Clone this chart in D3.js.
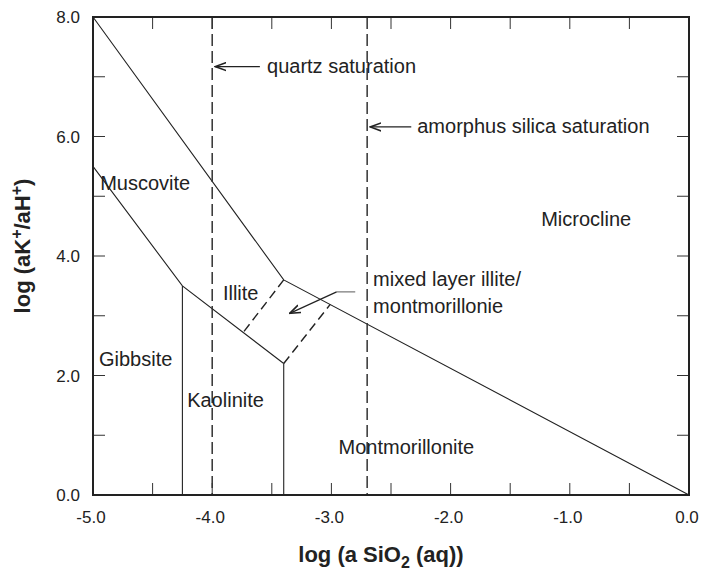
<!DOCTYPE html>
<html>
<head>
<meta charset="utf-8">
<script src="https://cdn.jsdelivr.net/npm/d3@7"></script>
<style>
  body { margin: 0; background: #fff; }
  text { font-family: "Liberation Sans", Arial, sans-serif; fill: #222; }
</style>
</head>
<body>
<script>
// tick values
const xTicks = [-5, -4, -3, -2, -1, 0];
const yTicks = [0, 2, 4, 6, 8];
const xMinor = d3.range(-5, 0.01, 0.5);
const yMinor = d3.range(0, 8.01, 1);

// phase boundaries (log aSiO2, log aK/aH)
const upperBoundary = [[-5, 8], [-3.4, 3.6], [0, 0]];
const lowerBoundary = [[-5, 5.5], [-4.25, 3.5], [-3.4, 2.2]];
const gibbsiteKaolinite = [[-4.25, 3.5], [-4.25, 0]];
const kaoliniteMontm = [[-3.4, 2.2], [-3.4, 0]];
const illiteMixed = [[-3.4, 3.6], [-3.74, 2.72]];
const mixedMontm = [[-3.4, 2.2], [-3.01, 3.19]];

// saturation lines
const saturationX = [-4.0, -2.7];
const saturationLabels = ['quartz saturation', 'amorphus silica saturation'];
const saturationArrowY = [7.17, 6.16];
const saturationArrowFrom = [-3.6, -2.33];
const saturationTextX = [-3.54, -2.28];

// field names
const fieldNames = ['Muscovite', 'Microcline', 'Illite', 'Gibbsite', 'Kaolinite', 'Montmorillonite'];
const fieldX = [-4.94, -1.24, -3.91, -4.95, -4.21, -2.94];
const fieldY = [5.1, 4.5, 3.26, 2.16, 1.47, 0.69];

// mixed layer note
const mixedLines = ['mixed layer illite/', 'montmorillonie'];
const mixedTextPos = [-2.65, 3.49];
const mixedArrow = [[-2.8, 3.4], [-2.956, 3.4], [-3.35, 3.04]];

const width = 703, height = 572;
const margin = {top: 17, right: 14, bottom: 77, left: 93};

const svg = d3.select('body').append('svg')
    .attr('width', width)
    .attr('height', height);

const x = d3.scaleLinear().domain([-5, 0]).range([margin.left, width - margin.right]);
const y = d3.scaleLinear().domain([0, 8]).range([height - margin.bottom, margin.top]);

const line = d3.line().x(d => x(d[0])).y(d => y(d[1]));

// arrow marker (open head)
const defs = svg.append('defs');
defs.append('marker')
    .attr('id', 'head')
    .attr('viewBox', '0 0 12 10')
    .attr('refX', 11).attr('refY', 5)
    .attr('markerWidth', 12).attr('markerHeight', 10)
    .attr('markerUnits', 'userSpaceOnUse')
    .attr('orient', 'auto')
    .append('path')
    .attr('d', 'M0,1 L11,5 L0,9')
    .attr('fill', 'none')
    .attr('stroke', '#222')
    .attr('stroke-width', 1.6);

// ticks (inward)
const tickLen = 12;
const ticks = svg.append('g').attr('stroke', '#333').attr('stroke-width', 1);
xMinor.forEach(v => {
    ticks.append('line').attr('x1', x(v)).attr('x2', x(v))
        .attr('y1', y(0)).attr('y2', y(0) - tickLen);
    ticks.append('line').attr('x1', x(v)).attr('x2', x(v))
        .attr('y1', y(8)).attr('y2', y(8) + tickLen);
});
yMinor.forEach(v => {
    ticks.append('line').attr('x1', x(-5)).attr('x2', x(-5) + tickLen)
        .attr('y1', y(v)).attr('y2', y(v));
    ticks.append('line').attr('x1', x(0)).attr('x2', x(0) - tickLen)
        .attr('y1', y(v)).attr('y2', y(v));
});

// tick labels
svg.append('g').selectAll('text')
    .data(xTicks).enter().append('text')
    .attr('x', d => x(d) - 2)
    .attr('y', y(0) + 28)
    .attr('text-anchor', 'middle')
    .style('font-size', '17px')
    .text(d => d3.format('.1f')(d).replace('−', '-'));

svg.append('g').selectAll('text')
    .data(yTicks).enter().append('text')
    .attr('x', x(-5) - 13)
    .attr('y', d => y(d))
    .attr('dy', '0.36em')
    .attr('text-anchor', 'end')
    .style('font-size', '17px')
    .text(d => d3.format('.1f')(d));

// boundaries
const bounds = svg.append('g').attr('fill', 'none').attr('stroke', '#222').attr('stroke-width', 1.1);
[upperBoundary, lowerBoundary, gibbsiteKaolinite, kaoliniteMontm].forEach(b => {
    bounds.append('path').datum(b).attr('d', line);
});
[illiteMixed, mixedMontm].forEach(b => {
    bounds.append('path').datum(b).attr('d', line)
        .attr('stroke-width', 1.4)
        .attr('stroke-dasharray', '9,5');
});

// saturation lines
saturationX.forEach((v, i) => {
    svg.append('line')
        .attr('x1', x(v)).attr('x2', x(v))
        .attr('y1', y(8)).attr('y2', y(0))
        .attr('stroke', '#333')
        .attr('stroke-width', 1.5)
        .attr('stroke-dasharray', '12,5');
    svg.append('line')
        .attr('x1', x(saturationArrowFrom[i])).attr('x2', x(v) + 3)
        .attr('y1', y(saturationArrowY[i])).attr('y2', y(saturationArrowY[i]))
        .attr('stroke', '#222').attr('stroke-width', 1.2)
        .attr('marker-end', 'url(#head)');
    svg.append('text')
        .attr('x', x(saturationTextX[i]))
        .attr('y', y(saturationArrowY[i]))
        .attr('dy', '0.32em')
        .style('font-size', '20px')
        .text(saturationLabels[i]);
});

// field names
svg.append('g').selectAll('text')
    .data(fieldNames).enter().append('text')
    .attr('x', (d, i) => x(fieldX[i]))
    .attr('y', (d, i) => y(fieldY[i]))
    .style('font-size', '20px')
    .text(d => d);

// mixed layer note
svg.append('path')
    .datum(mixedArrow.slice(0, 2))
    .attr('d', line)
    .attr('fill', 'none')
    .attr('stroke', '#888')
    .attr('stroke-width', 1.4);
svg.append('path')
    .datum(mixedArrow.slice(1))
    .attr('d', line)
    .attr('fill', 'none')
    .attr('stroke', '#222')
    .attr('stroke-width', 1.2)
    .attr('marker-end', 'url(#head)');
svg.append('g').selectAll('text')
    .data(mixedLines).enter().append('text')
    .attr('x', x(mixedTextPos[0]))
    .attr('y', (d, i) => y(mixedTextPos[1]) + i * 26.5)
    .style('font-size', '20px')
    .text(d => d);

// frame
svg.append('rect')
    .attr('x', x(-5)).attr('y', y(8))
    .attr('width', x(0) - x(-5))
    .attr('height', y(0) - y(8))
    .attr('fill', 'none')
    .attr('stroke', '#222')
    .attr('stroke-width', 2);

// axis titles
const xTitle = svg.append('text')
    .attr('x', (x(-5) + x(0)) / 2 - 10)
    .attr('y', 562)
    .attr('text-anchor', 'middle')
    .style('font-size', '22px')
    .style('font-weight', 'bold');
xTitle.append('tspan').text('log (a SiO');
xTitle.append('tspan').attr('dy', 6).style('font-size', '16px').text('2');
xTitle.append('tspan').attr('dy', -6).text(' (aq))');

const yTitle = svg.append('text')
    .attr('transform', `translate(30, ${(y(0) + y(8)) / 2 - 10}) rotate(-90)`)
    .attr('text-anchor', 'middle')
    .style('font-size', '22px')
    .style('font-weight', 'bold');
yTitle.append('tspan').text('log (aK');
yTitle.append('tspan').attr('dy', -8).style('font-size', '16px').text('+');
yTitle.append('tspan').attr('dy', 8).text('/aH');
yTitle.append('tspan').attr('dy', -8).style('font-size', '16px').text('+');
yTitle.append('tspan').attr('dy', 8).text(')');
</script>
</body>
</html>
